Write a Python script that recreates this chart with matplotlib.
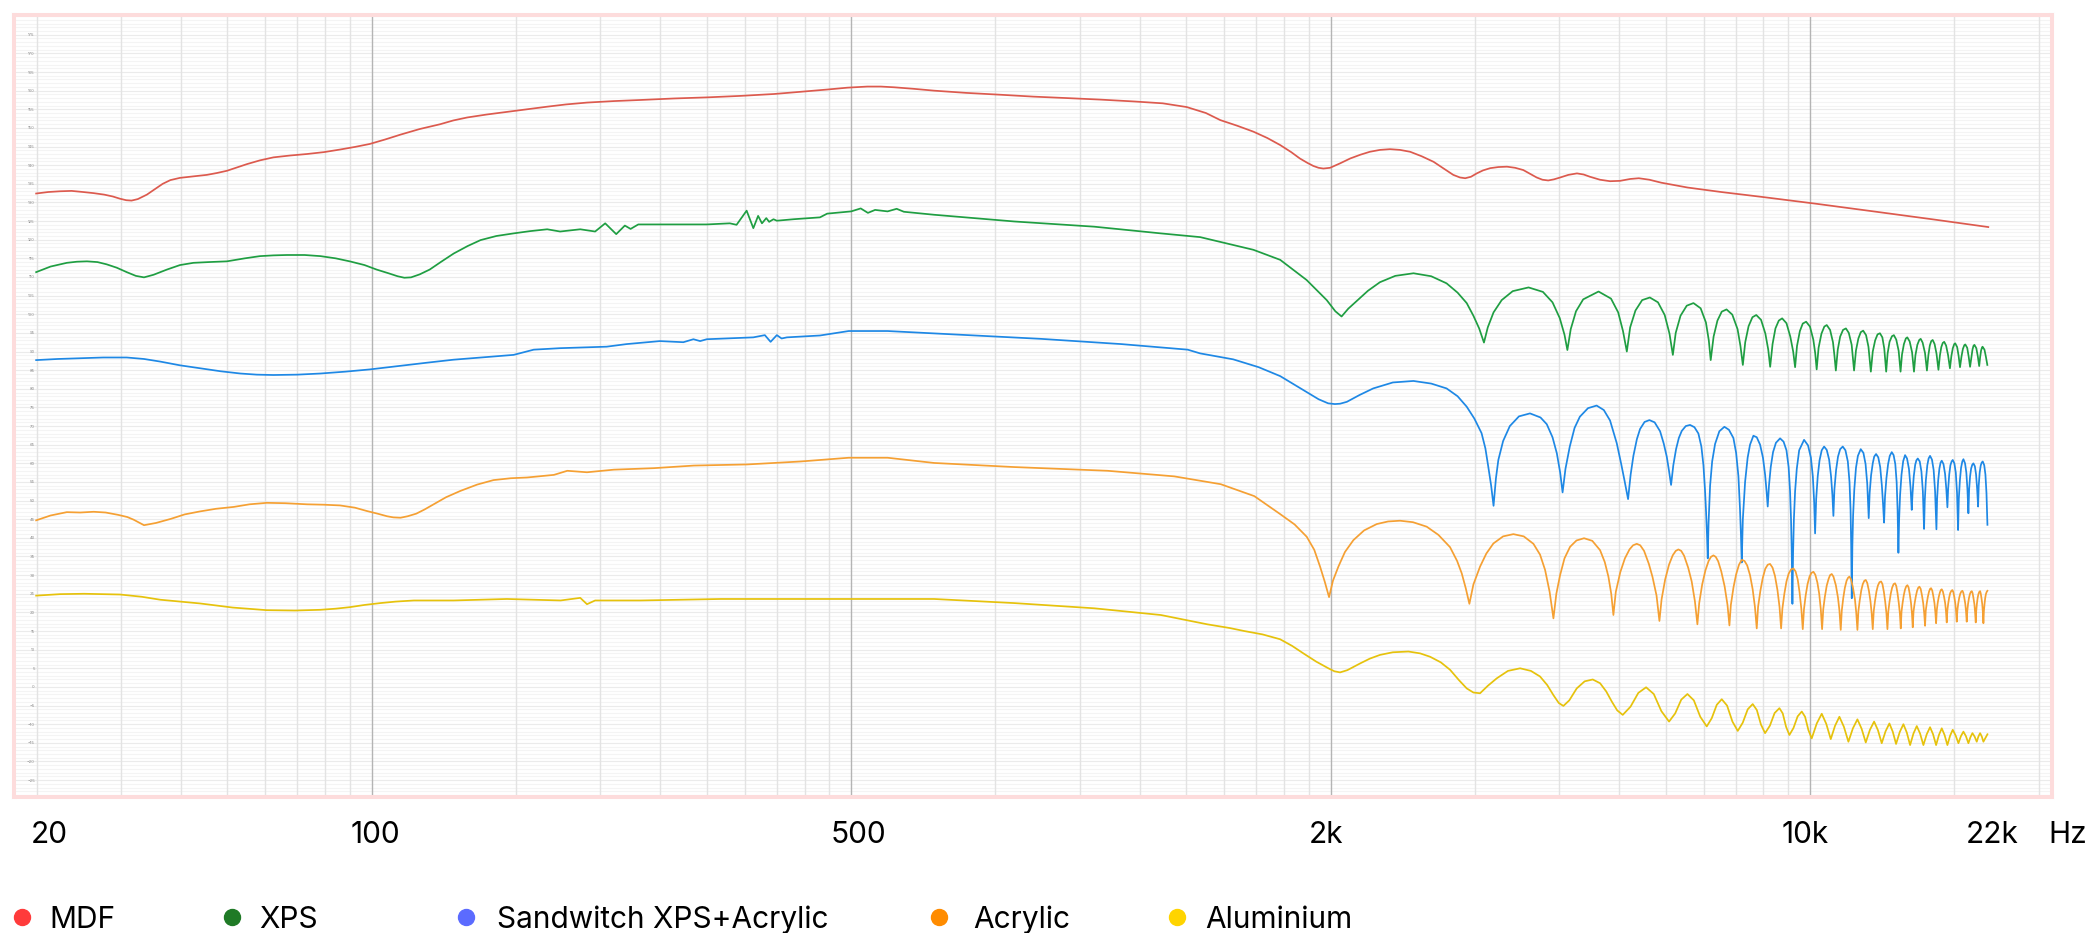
import matplotlib.pyplot as plt
import numpy as np
from matplotlib.lines import Line2D
from matplotlib.ticker import LogLocator, MultipleLocator, NullFormatter
from matplotlib.transforms import blended_transform_factory

plt.rcParams['font.family'] = ['Inter', 'DejaVu Sans']

# Each curve is a list of (log10 of grid frequency, level in dB) points.
# The chart's grid is a plain log grid; its text labels are placed separately below.
MDF = [
    (1.300, 132.4), (1.325, 132.8), (1.350, 133.0), (1.374, 133.1), (1.398, 132.8),
    (1.420, 132.5), (1.442, 132.1), (1.460, 131.6), (1.475, 131.0), (1.488, 130.6),
    (1.499, 130.5), (1.512, 130.9), (1.531, 132.1), (1.548, 133.6), (1.564, 135.0),
    (1.580, 136.0), (1.600, 136.6), (1.628, 137.0), (1.656, 137.4), (1.677, 137.9),
    (1.698, 138.5), (1.719, 139.4), (1.740, 140.3), (1.767, 141.3), (1.795, 142.1),
    (1.830, 142.6), (1.865, 143.0), (1.900, 143.5), (1.934, 144.2), (1.965, 144.9),
    (1.996, 145.7), (2.028, 146.9), (2.060, 148.2), (2.100, 149.7), (2.143, 151.0),
    (2.170, 152.0), (2.199, 152.8), (2.240, 153.6), (2.282, 154.3), (2.324, 155.0),
    (2.366, 155.7), (2.405, 156.3), (2.449, 156.8), (2.505, 157.2), (2.561, 157.5),
    (2.630, 157.9), (2.700, 158.2), (2.770, 158.6), (2.839, 159.1), (2.895, 159.7),
    (2.950, 160.3), (2.992, 160.8), (3.034, 161.1), (3.062, 161.1), (3.090, 160.9),
    (3.130, 160.5), (3.173, 160.0), (3.240, 159.4), (3.312, 158.9), (3.380, 158.4),
    (3.451, 158.0), (3.520, 157.6), (3.590, 157.1), (3.650, 156.6), (3.700, 155.6),
    (3.740, 154.0), (3.770, 152.1), (3.805, 150.6), (3.839, 149.0), (3.868, 147.3),
    (3.895, 145.4), (3.918, 143.5), (3.936, 141.8), (3.952, 140.6), (3.964, 139.8),
    (3.975, 139.3), (3.985, 139.1), (3.999, 139.3), (4.020, 140.5), (4.041, 141.8),
    (4.062, 142.8), (4.082, 143.6), (4.103, 144.1), (4.124, 144.3), (4.145, 144.1),
    (4.166, 143.6), (4.190, 142.4), (4.215, 140.9), (4.236, 139.1), (4.256, 137.4),
    (4.270, 136.7), (4.281, 136.5), (4.293, 136.9), (4.305, 137.8), (4.318, 138.6),
    (4.333, 139.2), (4.350, 139.5), (4.368, 139.6), (4.385, 139.3), (4.402, 138.7),
    (4.416, 137.7), (4.430, 136.7), (4.442, 136.1), (4.454, 135.9), (4.466, 136.2),
    (4.479, 136.7), (4.496, 137.4), (4.514, 137.8), (4.528, 137.5), (4.541, 136.9),
    (4.562, 136.1), (4.583, 135.7), (4.604, 135.8), (4.625, 136.3), (4.643, 136.5),
    (4.665, 136.1), (4.690, 135.3), (4.745, 134.0), (4.815, 132.8), (4.899, 131.5),
    (5.010, 129.7), (5.121, 127.8), (5.260, 125.4), (5.372, 123.4),
]

XPS = [
    (1.300, 111.3), (1.330, 112.8), (1.364, 113.8), (1.385, 114.1), (1.406, 114.2),
    (1.428, 114.0), (1.447, 113.4), (1.468, 112.5), (1.489, 111.3), (1.508, 110.3),
    (1.525, 109.9), (1.545, 110.6), (1.573, 112.0), (1.600, 113.2), (1.628, 113.8),
    (1.660, 114.0), (1.698, 114.2), (1.735, 115.0), (1.767, 115.6), (1.795, 115.8),
    (1.823, 115.9), (1.860, 115.9), (1.893, 115.6), (1.925, 115.0), (1.954, 114.2),
    (1.985, 113.2), (2.010, 112.0), (2.035, 111.0), (2.054, 110.2), (2.068, 109.8),
    (2.082, 109.9), (2.100, 110.7), (2.121, 112.0), (2.145, 114.1), (2.171, 116.3),
    (2.200, 118.3), (2.227, 119.9), (2.260, 121.0), (2.296, 121.7), (2.330, 122.3),
    (2.366, 122.8), (2.393, 122.2), (2.435, 122.8), (2.466, 122.2), (2.487, 124.4),
    (2.510, 121.5), (2.528, 123.8), (2.540, 122.9), (2.556, 124.1), (2.601, 124.1),
    (2.699, 124.1), (2.747, 124.4), (2.761, 124.0), (2.782, 127.8), (2.796, 123.1),
    (2.806, 126.4), (2.814, 124.4), (2.823, 125.8), (2.829, 124.8), (2.838, 125.5),
    (2.845, 125.1), (2.880, 125.5), (2.935, 126.0), (2.950, 127.0), (3.000, 127.6),
    (3.020, 128.4), (3.035, 127.2), (3.050, 128.0), (3.076, 127.6), (3.095, 128.3),
    (3.110, 127.5), (3.173, 126.7), (3.340, 124.9), (3.507, 123.5), (3.646, 121.7),
    (3.728, 120.7), (3.839, 117.3), (3.895, 114.6), (3.950, 109.2), (3.992, 103.8),
    (4.010, 100.8), (4.023, 99.4), (4.037, 101.5), (4.055, 103.6), (4.078, 106.3),
    (4.103, 108.6), (4.135, 110.3), (4.173, 111.0), (4.210, 110.2), (4.242, 108.3),
    (4.265, 105.8), (4.284, 103.0), (4.298, 99.6), (4.310, 96.2), (4.320, 92.4),
    (4.328, 96.5), (4.340, 100.5), (4.357, 103.8), (4.380, 106.2), (4.413, 107.2),
    (4.443, 106.0), (4.463, 103.2), (4.478, 99.0), (4.488, 94.5), (4.494, 90.4),
    (4.501, 96.0), (4.512, 100.8), (4.527, 104.0), (4.559, 106.1), (4.585, 104.2),
    (4.600, 100.5), (4.610, 95.5), (4.618, 90.0), (4.625, 96.5), (4.636, 101.0),
    (4.650, 103.8), (4.666, 104.5), (4.683, 103.2), (4.697, 99.8), (4.707, 94.8),
    (4.714, 89.1), (4.720, 95.0), (4.730, 99.6), (4.743, 102.3), (4.757, 103.0),
    (4.772, 101.6), (4.783, 97.8), (4.789, 93.0), (4.793, 87.7), (4.799, 94.0),
    (4.807, 98.3), (4.816, 100.7), (4.826, 101.3), (4.838, 99.9), (4.849, 96.0),
    (4.855, 91.5), (4.860, 86.4), (4.865, 92.5), (4.872, 96.8), (4.880, 99.2),
    (4.888, 99.8), (4.898, 98.5), (4.907, 94.8), (4.913, 90.5), (4.917, 85.9),
    (4.922, 92.0), (4.928, 96.2), (4.935, 98.3), (4.942, 98.9), (4.951, 97.6),
    (4.959, 94.0), (4.965, 90.0), (4.969, 85.8), (4.973, 91.5), (4.979, 95.5),
    (4.985, 97.5), (4.992, 98.0), (5.000, 96.7), (5.007, 93.2), (5.011, 89.5),
    (5.014, 85.2), (5.018, 91.0), (5.024, 94.8), (5.030, 96.7), (5.035, 97.1),
    (5.042, 95.8), (5.048, 92.5), (5.051, 89.0), (5.054, 84.9), (5.058, 90.5),
    (5.063, 94.0), (5.069, 95.8), (5.075, 96.2), (5.081, 95.0), (5.087, 91.8),
    (5.092, 84.9), (5.096, 90.3), (5.101, 93.5), (5.106, 95.2), (5.111, 95.6),
    (5.117, 94.4), (5.122, 91.3), (5.127, 84.6), (5.131, 90.0), (5.136, 93.0),
    (5.141, 94.6), (5.146, 94.9), (5.151, 93.8), (5.155, 90.8), (5.159, 84.6),
    (5.162, 89.5), (5.166, 92.6), (5.171, 94.1), (5.175, 94.4), (5.180, 93.2),
    (5.185, 90.2), (5.189, 84.6), (5.192, 89.2), (5.196, 92.0), (5.200, 93.5),
    (5.203, 93.8), (5.208, 92.7), (5.213, 89.8), (5.217, 84.6), (5.220, 89.0),
    (5.224, 91.8), (5.228, 93.1), (5.231, 93.4), (5.235, 92.4), (5.240, 89.6),
    (5.244, 84.9), (5.247, 89.0), (5.250, 91.6), (5.253, 92.8), (5.256, 93.1),
    (5.260, 92.0), (5.264, 89.4), (5.268, 85.1), (5.271, 88.9), (5.274, 91.2),
    (5.277, 92.3), (5.280, 92.6), (5.284, 91.6), (5.288, 89.1), (5.292, 85.5),
    (5.295, 88.8), (5.298, 90.9), (5.301, 92.0), (5.303, 92.2), (5.307, 91.2),
    (5.310, 88.9), (5.313, 85.8), (5.316, 88.6), (5.319, 90.7), (5.322, 91.7),
    (5.324, 91.9), (5.328, 91.0), (5.331, 88.7), (5.334, 85.9), (5.337, 88.6),
    (5.339, 90.5), (5.341, 91.5), (5.343, 91.8), (5.347, 90.9), (5.350, 88.8),
    (5.353, 86.1), (5.355, 88.5), (5.357, 90.3), (5.359, 91.1), (5.360, 91.3),
    (5.364, 90.5), (5.367, 88.6), (5.370, 86.4),
]

SANDWICH = [
    (1.300, 87.7), (1.345, 88.0), (1.392, 88.2), (1.440, 88.4), (1.489, 88.4),
    (1.525, 88.0), (1.559, 87.3), (1.600, 86.3), (1.642, 85.5), (1.685, 84.7),
    (1.726, 84.1), (1.760, 83.8), (1.795, 83.7), (1.845, 83.8), (1.893, 84.1),
    (1.945, 84.6), (1.996, 85.2), (2.055, 86.1), (2.115, 87.0), (2.170, 87.8),
    (2.227, 88.4), (2.296, 89.1), (2.338, 90.5), (2.393, 90.9), (2.490, 91.3),
    (2.532, 92.0), (2.601, 92.8), (2.650, 92.5), (2.671, 93.3), (2.685, 92.8),
    (2.699, 93.3), (2.796, 93.8), (2.820, 94.4), (2.832, 92.6), (2.845, 94.4),
    (2.855, 93.5), (2.866, 93.8), (2.935, 94.3), (2.995, 95.5), (3.076, 95.5),
    (3.229, 94.5), (3.396, 93.4), (3.563, 92.0), (3.702, 90.5), (3.728, 89.5),
    (3.797, 87.9), (3.850, 85.8), (3.895, 83.4), (3.943, 79.7), (3.975, 77.2),
    (3.995, 76.1), (4.009, 75.9), (4.020, 76.0), (4.034, 76.5), (4.060, 78.3),
    (4.089, 80.1), (4.130, 81.7), (4.173, 82.1), (4.210, 81.4), (4.242, 80.1),
    (4.265, 78.0), (4.284, 75.2), (4.300, 72.0), (4.315, 68.1), (4.323, 64.0),
    (4.329, 59.1), (4.335, 54.0), (4.340, 48.6), (4.345, 56.0), (4.350, 60.9),
    (4.360, 66.0), (4.374, 70.0), (4.393, 72.6), (4.416, 73.4), (4.438, 72.3),
    (4.451, 70.5), (4.463, 67.0), (4.472, 62.7), (4.479, 57.5), (4.484, 52.2),
    (4.490, 58.5), (4.499, 64.5), (4.509, 69.5), (4.520, 72.5), (4.537, 74.8),
    (4.555, 75.5), (4.570, 74.3), (4.583, 71.5), (4.597, 65.4), (4.606, 60.0),
    (4.613, 55.5), (4.6206, 50.4), (4.6260, 57.0), (4.6317, 62.0), (4.6390, 66.5),
    (4.6456, 69.2), (4.6550, 71.1), (4.6651, 71.6), (4.6760, 71.0), (4.6874, 68.6),
    (4.6950, 65.3), (4.7013, 61.8), (4.7060, 58.0), (4.7103, 54.2), (4.7150, 59.5),
    (4.7207, 63.8), (4.7265, 66.8), (4.7326, 68.7), (4.7410, 70.0), (4.7499, 70.3),
    (4.7590, 69.7), (4.7673, 68.0), (4.7735, 64.5), (4.7778, 59.5), (4.7810, 53.0),
    (4.7833, 47.0), (4.7852, 41.0), (4.7868, 34.5), (4.7885, 44.0), (4.7917, 54.0),
    (4.7960, 60.5), (4.8021, 65.2), (4.8110, 68.6), (4.8215, 69.8), (4.8310, 69.0),
    (4.8403, 66.8), (4.8460, 62.8), (4.8508, 56.5), (4.8540, 48.0), (4.8560, 41.0),
    (4.8577, 33.4), (4.8600, 45.0), (4.8647, 55.0), (4.8700, 61.5), (4.8750, 65.0),
    (4.8820, 67.4), (4.8890, 67.0), (4.8960, 65.0), (4.9020, 61.5), (4.9064, 57.0),
    (4.9095, 52.5), (4.9119, 48.4), (4.9145, 54.0), (4.9182, 59.0), (4.9230, 63.0),
    (4.9290, 65.5), (4.9377, 66.7), (4.9450, 65.8), (4.9510, 63.5), (4.9555, 59.0),
    (4.9585, 52.5), (4.9605, 45.0), (4.9620, 36.0), (4.9634, 22.3), (4.9648, 36.0),
    (4.9665, 45.0), (4.9690, 52.5), (4.9725, 58.5), (4.9775, 63.5), (4.9877, 66.3),
    (4.9960, 64.8), (5.0020, 61.5), (5.0060, 56.5), (5.0088, 49.5), (5.0107, 41.2),
    (5.0130, 50.5), (5.0162, 56.5), (5.0200, 60.8), (5.0245, 63.5), (5.0295, 64.5),
    (5.0350, 63.6), (5.0400, 61.0), (5.0440, 56.5), (5.0468, 51.5), (5.0489, 45.9),
    (5.0510, 53.0), (5.0545, 58.2), (5.0585, 61.8), (5.0630, 63.8), (5.0684, 64.5),
    (5.0740, 63.5), (5.0790, 60.5), (5.0825, 55.0), (5.0847, 47.5), (5.0860, 38.0),
    (5.0872, 23.8), (5.0885, 38.0), (5.0900, 46.0), (5.0925, 53.0), (5.0960, 58.8),
    (5.1000, 62.0), (5.1059, 63.8), (5.1115, 62.8), (5.1160, 59.8), (5.1195, 54.5),
    (5.1226, 45.3), (5.1245, 52.0), (5.1275, 56.8), (5.1310, 60.0), (5.1340, 61.8),
    (5.1379, 62.5), (5.1425, 61.6), (5.1465, 59.0), (5.1500, 54.0), (5.1525, 49.0),
    (5.1546, 44.1), (5.1565, 51.0), (5.1595, 56.0), (5.1630, 59.8), (5.1665, 62.0),
    (5.1706, 63.0), (5.1745, 62.2), (5.1780, 59.8), (5.1808, 55.0), (5.1828, 47.5),
    (5.1845, 36.0), (5.1860, 45.0), (5.1880, 51.5), (5.1910, 57.0), (5.1945, 60.6),
    (5.1984, 62.2), (5.2025, 61.3), (5.2065, 58.5), (5.2098, 53.5), (5.2123, 47.5),
    (5.2140, 52.0), (5.2165, 56.5), (5.2195, 59.6), (5.2220, 60.8), (5.2249, 61.3),
    (5.2290, 60.5), (5.2325, 57.8), (5.2355, 52.5), (5.2380, 42.4), (5.2395, 50.0),
    (5.2418, 55.5), (5.2448, 59.5), (5.2475, 61.3), (5.2505, 62.0), (5.2545, 61.0),
    (5.2580, 58.2), (5.2610, 52.5), (5.2638, 42.3), (5.2652, 50.5), (5.2675, 55.5),
    (5.2700, 58.6), (5.2725, 60.2), (5.2749, 60.7), (5.2785, 59.8), (5.2818, 57.2),
    (5.2845, 53.0), (5.2867, 48.2), (5.2882, 53.0), (5.2905, 57.0), (5.2930, 59.5),
    (5.2955, 60.5), (5.2978, 60.9), (5.3012, 60.0), (5.3042, 57.5), (5.3068, 52.0),
    (5.3090, 42.1), (5.3105, 50.5), (5.3128, 55.5), (5.3152, 58.8), (5.3178, 60.5),
    (5.3201, 61.1), (5.3235, 60.0), (5.3262, 57.5), (5.3285, 53.0), (5.3305, 46.6),
    (5.3320, 53.0), (5.3340, 56.5), (5.3362, 58.6), (5.3385, 59.6), (5.3409, 60.0),
    (5.3440, 59.2), (5.3465, 57.0), (5.3488, 53.0), (5.3507, 48.4), (5.3520, 54.0),
    (5.3540, 57.5), (5.3562, 59.4), (5.3582, 60.2), (5.3604, 60.5), (5.3635, 59.5),
    (5.3660, 57.0), (5.3682, 52.0), (5.3702, 43.5),
]

ACRYLIC = [
    (1.300, 44.7), (1.330, 46.0), (1.364, 46.9), (1.392, 46.8), (1.420, 47.0),
    (1.445, 46.8), (1.470, 46.2), (1.490, 45.6), (1.503, 44.9), (1.525, 43.4),
    (1.550, 44.0), (1.581, 45.1), (1.610, 46.3), (1.642, 47.1), (1.675, 47.8),
    (1.712, 48.3), (1.745, 49.0), (1.781, 49.4), (1.820, 49.3), (1.865, 49.0),
    (1.900, 48.9), (1.934, 48.7), (1.965, 48.1), (1.990, 47.2), (2.012, 46.5),
    (2.032, 45.8), (2.045, 45.5), (2.060, 45.4), (2.075, 45.8), (2.093, 46.5),
    (2.110, 47.6), (2.129, 49.0), (2.155, 50.9), (2.185, 52.6), (2.220, 54.3),
    (2.254, 55.5), (2.290, 56.0), (2.324, 56.2), (2.380, 56.9), (2.408, 58.0),
    (2.449, 57.6), (2.505, 58.3), (2.588, 58.7), (2.672, 59.4), (2.783, 59.7),
    (2.895, 60.5), (2.995, 61.5), (3.076, 61.5), (3.173, 60.1), (3.340, 59.0),
    (3.535, 58.0), (3.674, 56.5), (3.771, 54.4), (3.841, 51.2), (3.8947, 46.4),
    (3.9250, 43.6), (3.9503, 40.3), (3.9660, 36.8), (3.9781, 32.3), (3.9880, 28.2),
    (3.9969, 24.1), (4.0050, 28.5), (4.0164, 32.3), (4.0300, 36.2), (4.0477, 39.4),
    (4.0700, 42.0), (4.0963, 43.7), (4.1200, 44.4), (4.1450, 44.6), (4.1720, 44.2),
    (4.2006, 43.0), (4.2250, 40.8), (4.2493, 37.5), (4.2640, 33.8), (4.2736, 30.5),
    (4.2820, 26.5), (4.2896, 22.3), (4.2980, 27.5), (4.3119, 32.3), (4.3250, 35.8),
    (4.3397, 38.5), (4.3600, 40.4), (4.3814, 41.0), (4.4030, 40.4), (4.4232, 38.4),
    (4.4370, 35.5), (4.4475, 31.4), (4.4570, 25.5), (4.4649, 18.4), (4.4710, 25.0),
    (4.4788, 30.0), (4.4880, 34.5), (4.4996, 37.6), (4.5130, 39.3), (4.5288, 39.9),
    (4.5460, 39.2), (4.5622, 36.7), (4.5720, 33.5), (4.5796, 29.6), (4.5855, 25.0),
    (4.5900, 19.3), (4.5950, 25.5), (4.6044, 30.8), (4.6140, 34.5), (4.6236, 36.9),
    (4.6310, 38.0), (4.6387, 38.4), (4.6460, 38.0), (4.6540, 36.5), (4.6640, 33.0),
    (4.6716, 29.5), (4.6800, 24.5), (4.6860, 17.7), (4.6905, 23.5), (4.6979, 28.8),
    (4.7060, 32.8), (4.7137, 35.3), (4.7200, 36.5), (4.7256, 36.9), (4.7315, 36.5),
    (4.7375, 35.2), (4.7460, 32.0), (4.7533, 28.3), (4.7600, 23.0), (4.7652, 16.8),
    (4.7690, 22.5), (4.7752, 27.5), (4.7820, 31.3), (4.7886, 33.8), (4.7935, 34.9),
    (4.7986, 35.3), (4.8035, 34.9), (4.8086, 33.7), (4.8150, 31.0), (4.8220, 27.0),
    (4.8280, 22.0), (4.8320, 16.5), (4.8350, 22.0), (4.8406, 26.8), (4.8460, 30.2),
    (4.8520, 32.8), (4.8577, 34.1), (4.8635, 33.8), (4.8691, 32.6), (4.8750, 30.0),
    (4.8805, 26.2), (4.8852, 21.5), (4.8890, 15.7), (4.8918, 21.5), (4.8966, 25.8),
    (4.9015, 29.2), (4.9068, 31.7), (4.9120, 32.8), (4.9168, 33.0), (4.9220, 32.0),
    (4.9270, 29.8), (4.9322, 26.0), (4.9365, 21.5), (4.9398, 15.7), (4.9425, 21.0),
    (4.9466, 25.0), (4.9510, 28.3), (4.9556, 30.4), (4.9605, 31.5), (4.9655, 31.8),
    (4.9700, 31.0), (4.9745, 28.8), (4.9782, 25.5), (4.9820, 21.0), (4.9850, 15.5),
    (4.9875, 20.8), (4.9910, 24.5), (4.9950, 27.6), (4.9991, 29.6), (5.0032, 30.6),
    (5.0072, 30.9), (5.0112, 30.1), (5.0155, 28.0), (5.0193, 25.0), (5.0225, 21.0),
    (5.0253, 15.5), (5.0277, 20.8), (5.0311, 24.2), (5.0350, 27.2), (5.0389, 29.0),
    (5.0420, 30.0), (5.0454, 30.3), (5.0490, 29.6), (5.0540, 27.3), (5.0584, 24.0),
    (5.0615, 20.5), (5.0642, 15.3), (5.0664, 20.5), (5.0694, 23.8), (5.0728, 26.6),
    (5.0764, 28.5), (5.0795, 29.3), (5.0823, 29.6), (5.0855, 28.9), (5.0895, 26.8),
    (5.0938, 23.5), (5.0965, 20.0), (5.0990, 15.3), (5.1010, 20.3), (5.1038, 23.2),
    (5.1070, 25.9), (5.1102, 27.6), (5.1135, 28.5), (5.1164, 28.7), (5.1195, 27.9),
    (5.1230, 25.8), (5.1262, 23.0), (5.1287, 19.8), (5.1310, 15.5), (5.1330, 20.3),
    (5.1356, 23.0), (5.1387, 25.6), (5.1417, 27.2), (5.1450, 28.1), (5.1484, 28.3),
    (5.1512, 27.6), (5.1542, 25.5), (5.1570, 22.8), (5.1595, 19.8), (5.1616, 15.5),
    (5.1634, 20.2), (5.1658, 22.7), (5.1685, 25.0), (5.1713, 26.6), (5.1745, 27.6),
    (5.1775, 27.8), (5.1800, 27.1), (5.1826, 25.2), (5.1852, 22.6), (5.1875, 19.8),
    (5.1894, 15.7), (5.1910, 20.2), (5.1932, 22.5), (5.1957, 24.6), (5.1982, 26.1),
    (5.2008, 27.0), (5.2033, 27.3), (5.2057, 26.7), (5.2082, 24.9), (5.2107, 22.6),
    (5.2127, 19.8), (5.2144, 16.0), (5.2160, 20.2), (5.2183, 22.4), (5.2208, 24.3),
    (5.2234, 25.8), (5.2258, 26.6), (5.2283, 26.9), (5.2310, 26.3), (5.2336, 24.6),
    (5.2362, 22.5), (5.2383, 19.8), (5.2401, 16.4), (5.2415, 20.4), (5.2436, 22.4),
    (5.2458, 24.1), (5.2482, 25.5), (5.2505, 26.3), (5.2526, 26.5), (5.2550, 25.9),
    (5.2573, 24.4), (5.2597, 22.5), (5.2616, 20.0), (5.2631, 17.1), (5.2645, 20.5),
    (5.2664, 22.5), (5.2686, 24.1), (5.2709, 25.3), (5.2730, 26.0), (5.2749, 26.2),
    (5.2773, 25.6), (5.2797, 24.2), (5.2820, 22.5), (5.2838, 20.2), (5.2853, 17.3),
    (5.2866, 20.5), (5.2884, 22.4), (5.2904, 24.0), (5.2926, 25.2), (5.2950, 25.8),
    (5.2971, 26.0), (5.2990, 25.5), (5.3010, 24.2), (5.3031, 22.5), (5.3048, 20.3),
    (5.3062, 17.5), (5.3075, 20.5), (5.3093, 22.4), (5.3113, 23.9), (5.3135, 25.0),
    (5.3158, 25.6), (5.3180, 25.8), (5.3198, 25.3), (5.3218, 24.0), (5.3239, 22.4),
    (5.3256, 20.2), (5.3270, 17.5), (5.3282, 20.4), (5.3298, 22.3), (5.3316, 23.8),
    (5.3336, 24.9), (5.3356, 25.5), (5.3375, 25.7), (5.3392, 25.2), (5.3410, 23.9),
    (5.3430, 22.2), (5.3445, 20.0), (5.3458, 17.3), (5.3468, 20.3), (5.3482, 22.3),
    (5.3498, 23.9), (5.3514, 24.9), (5.3532, 25.5), (5.3549, 25.7), (5.3562, 25.1),
    (5.3578, 23.8), (5.3594, 22.2), (5.3607, 20.0), (5.3618, 17.1), (5.3628, 20.3),
    (5.3642, 22.3), (5.3656, 23.9), (5.3670, 24.9), (5.3686, 25.5), (5.3702, 25.8),
]

ALUMINIUM = [
    (1.300, 24.5), (1.350, 24.9), (1.400, 25.0), (1.475, 24.8), (1.520, 24.2),
    (1.559, 23.4), (1.600, 22.9), (1.642, 22.4), (1.710, 21.3), (1.781, 20.6),
    (1.840, 20.5), (1.893, 20.7), (1.925, 21.0), (1.954, 21.4), (1.985, 22.0),
    (2.018, 22.5), (2.050, 22.9), (2.088, 23.2), (2.171, 23.2), (2.282, 23.6),
    (2.394, 23.2), (2.435, 23.9), (2.449, 22.2), (2.466, 23.2), (2.561, 23.2),
    (2.728, 23.6), (2.895, 23.6), (2.995, 23.6), (3.173, 23.6), (3.340, 22.5),
    (3.507, 21.1), (3.646, 19.3), (3.743, 16.8), (3.790, 15.8), (3.820, 15.0),
    (3.858, 14.1), (3.8947, 12.8), (3.920, 11.0), (3.9434, 9.0), (3.970, 6.8),
    (3.9955, 5.0), (4.008, 4.2), (4.0199, 3.9), (4.035, 4.5), (4.0616, 6.3),
    (4.082, 7.6), (4.1033, 8.6), (4.130, 9.3), (4.1624, 9.5), (4.187, 9.0),
    (4.2076, 8.1), (4.230, 6.6), (4.2493, 4.6), (4.268, 1.8), (4.2841, -0.4),
    (4.298, -1.5), (4.3119, -1.7), (4.328, 0.3), (4.3466, 2.3), (4.370, 4.3),
    (4.3954, 5.0), (4.418, 4.3), (4.4370, 2.8), (4.452, 0.5), (4.4649, -2.2),
    (4.476, -4.3), (4.4857, -5.1), (4.498, -3.6), (4.5135, -0.4), (4.530, 1.5),
    (4.5469, 2.0), (4.5622, 1.0), (4.5750, -1.2), (4.5870, -4.0), (4.5980, -6.3),
    (4.6095, -7.5), (4.6257, -5.3), (4.6420, -1.6), (4.6582, -0.1), (4.6742, -1.9),
    (4.6901, -6.5), (4.7061, -9.3), (4.7189, -7.1), (4.7316, -3.4), (4.7444, -1.9),
    (4.7578, -3.6), (4.7712, -8.0), (4.7847, -10.6), (4.7951, -8.4), (4.8056, -4.8),
    (4.8160, -3.3), (4.8271, -5.0), (4.8383, -9.3), (4.8494, -11.8), (4.8598, -9.6),
    (4.8702, -6.0), (4.8806, -4.6), (4.8892, -6.2), (4.8978, -10.1), (4.9064, -12.4),
    (4.9164, -10.4), (4.9263, -7.0), (4.9363, -5.7), (4.9432, -7.1), (4.9502, -10.7),
    (4.9571, -12.9), (4.9657, -11.0), (4.9743, -7.9), (4.9829, -6.6), (4.9898, -8.0),
    (4.9968, -11.6), (5.0037, -13.8), (5.0142, -9.8), (5.0246, -7.2), (5.0340, -9.9),
    (5.0434, -14.0), (5.0524, -10.4), (5.0614, -8.0), (5.0708, -10.7), (5.0802, -14.7),
    (5.0896, -11.1), (5.0990, -8.7), (5.1077, -11.2), (5.1164, -14.9), (5.1251, -11.5),
    (5.1338, -9.3), (5.1418, -11.6), (5.1497, -15.1), (5.1577, -11.9), (5.1657, -9.8),
    (5.1727, -12.0), (5.1796, -15.3), (5.1873, -12.1), (5.1949, -10.0), (5.2019, -12.2),
    (5.2089, -15.6), (5.2159, -12.5), (5.2228, -10.5), (5.2297, -12.5), (5.2366, -15.6),
    (5.2436, -12.7), (5.2505, -10.8), (5.2568, -12.7), (5.2631, -15.6), (5.2690, -12.9),
    (5.2749, -11.1), (5.2808, -12.9), (5.2867, -15.6), (5.2923, -13.1), (5.2978, -11.5),
    (5.3038, -13.0), (5.3097, -15.1), (5.3149, -13.2), (5.3201, -12.0), (5.3253, -13.2),
    (5.3305, -15.1), (5.3347, -13.5), (5.3389, -12.4), (5.3434, -13.3), (5.3479, -14.7),
    (5.3514, -13.3), (5.3549, -12.4), (5.3584, -13.3), (5.3618, -14.7), (5.3702, -12.7),
]

NAMES = ['MDF', 'XPS', 'Sandwitch XPS+Acrylic', 'Acrylic', 'Aluminium']
LINE_COLORS = ['#dc5a4e', '#1f9e42', '#1e88e5', '#f5a033', '#e6c20c']
DOT_COLORS = ['#ff3b3b', '#1f7a26', '#5b6bff', '#ff8c00', '#ffd400']

XTICK_POS = [21.2, 102, 1036, 9790, 97900, 240400]
XTICK_LABELS = ['20', '100', '500', '2k', '10k', '22k']
YTICKS = list(range(-25, 180, 5))

W, H = 2092, 933
fig = plt.figure(figsize=(W / 100, H / 100), dpi=100)
ax = fig.add_axes([14 / W, 1 - 796.5 / H, 2038 / W, 781.5 / H])
ax.set_xscale('log')
ax.set_xlim(17.94, 319800)
ax.set_ylim(-29.4, 180.3)

for points, color in zip([MDF, XPS, SANDWICH, ACRYLIC, ALUMINIUM], LINE_COLORS):
    logf, db = np.array(points).T
    ax.plot(10 ** logf, db, color=color, lw=1.25, solid_joinstyle='round')

# grid: decades darker, 2..9 lighter; 5 dB and 1 dB horizontal lines
ax.xaxis.set_major_locator(LogLocator(base=10, numticks=20))
ax.xaxis.set_minor_locator(LogLocator(base=10, subs=np.arange(2, 10), numticks=20))
ax.xaxis.set_major_formatter(NullFormatter())
ax.xaxis.set_minor_formatter(NullFormatter())
ax.set_yticks(YTICKS)
ax.yaxis.set_minor_locator(MultipleLocator(1))
ax.xaxis.grid(True, which='major', color='#b4b4b4', lw=1.0)
ax.xaxis.grid(True, which='minor', color='#e3e3e3', lw=1.0)
ax.yaxis.grid(True, which='major', color='#ebebeb', lw=0.8)
ax.yaxis.grid(True, which='minor', color='#f4f4f4', lw=0.8)
ax.set_axisbelow(True)
ax.yaxis.set_zorder(0.4)   # vertical lines stay solid on top of the horizontal ones
ax.tick_params(which='both', length=0)
ax.tick_params(axis='y', pad=-15, labelsize=3, labelcolor='#8a8a8a')

for spine in ax.spines.values():
    spine.set_color('#fddcdc')
    spine.set_linewidth(2.9)

# frequency labels under the plot
tr = blended_transform_factory(ax.transData, fig.transFigure)
for pos, label in zip(XTICK_POS, XTICK_LABELS):
    ax.text(pos, 1 - 843 / H, label, transform=tr, ha='center', va='baseline', fontsize=21.5)
ax.text(345000, 1 - 843 / H, 'Hz', transform=tr, ha='center', va='baseline', fontsize=21.5)

# legend row
legend_dot_x = [22, 232, 466, 939, 1177]
legend_text_x = [49, 259, 497, 973, 1205]
for dx, tx, name, color in zip(legend_dot_x, legend_text_x, NAMES, DOT_COLORS):
    fig.add_artist(Line2D([dx / W], [1 - 917 / H], marker='o', markersize=11.5, lw=0,
                          color=color, transform=fig.transFigure))
    fig.text(tx / W, 1 - 928 / H, name, ha='left', va='baseline', fontsize=21.5)

fig.savefig('out.png', dpi=100)
